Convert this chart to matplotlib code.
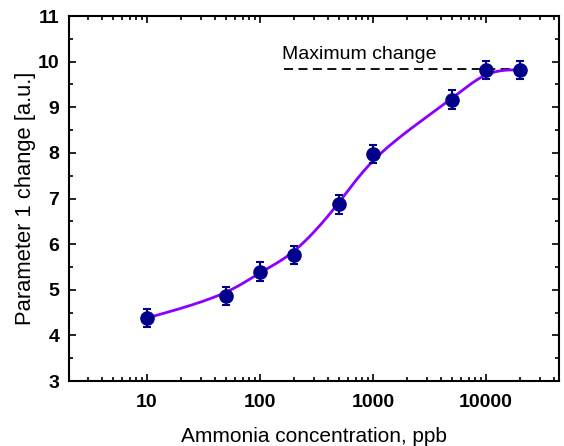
import numpy as np
import matplotlib
matplotlib.use("Agg")
import matplotlib.pyplot as plt
from matplotlib.ticker import LogLocator, MultipleLocator, FixedLocator, NullFormatter

conc = [10, 50, 100, 200, 500, 1000, 5000, 10000, 20000]
change = [4.38, 4.87, 5.40, 5.76, 6.87, 7.97, 9.17, 9.82, 9.82]
err = [0.20, 0.20, 0.20, 0.20, 0.20, 0.20, 0.20, 0.20, 0.20]
max_change = 9.84
xticks = [10, 100, 1000, 10000]
xticklabels = ["10", "100", "1000", "10000"]
yticks = [3, 4, 5, 6, 7, 8, 9, 10, 11]

plt.rcParams['font.family'] = ['Liberation Sans', 'DejaVu Sans']

def bspline(px, py, per_seg=60):
    """Uniform cubic B-spline with the data as control points (clamped ends)."""
    P = np.column_stack([px, py])
    P = np.vstack([P[0], P[0], P, P[-1], P[-1]])
    t = np.linspace(0, 1, per_seg)
    b0 = (1 - t)**3 / 6
    b1 = (3*t**3 - 6*t**2 + 4) / 6
    b2 = (-3*t**3 + 3*t**2 + 3*t + 1) / 6
    b3 = t**3 / 6
    pts = []
    for i in range(len(P) - 3):
        seg = (np.outer(b0, P[i]) + np.outer(b1, P[i+1]) +
               np.outer(b2, P[i+2]) + np.outer(b3, P[i+3]))
        pts.append(seg)
    pts = np.vstack(pts)
    return pts[:, 0], pts[:, 1]

fig = plt.figure(figsize=(5.64, 4.46), dpi=100)
ax = fig.add_axes([0.1223, 0.1457, 0.8687, 0.8183])

cx, cy = bspline(np.log10(conc), change)
ax.plot(10**cx, cy, color='#8B00FF', lw=2, zorder=2)
ax.errorbar(conc, change, yerr=err, fmt='o', color='#00008B', ms=9.5,
            ecolor='#00008B', elinewidth=1.5, capsize=3, capthick=1.5, zorder=3)
ax.plot([162, 20000], [max_change, max_change], ls=(0, (5, 3)), color='black', lw=1.3, zorder=1)
ax.text(157, 9.97, "Maximum change", fontsize=14, ha='left', va='bottom')

ax.set_xscale('log')
ax.set_xlim(2.04, 44000)
ax.set_ylim(3, 11)
ax.xaxis.set_major_locator(FixedLocator(xticks))
ax.set_xticklabels(xticklabels)
ax.xaxis.set_minor_locator(LogLocator(base=10, subs=np.arange(2, 10), numticks=20))
ax.xaxis.set_minor_formatter(NullFormatter())
ax.yaxis.set_major_locator(FixedLocator(yticks))
ax.yaxis.set_minor_locator(MultipleLocator(0.5))

ax.tick_params(which='both', direction='in', top=True, right=True, width=1.2)
ax.tick_params(which='major', length=5, labelsize=14)
ax.tick_params(axis='x', which='major', pad=9)
ax.tick_params(axis='y', which='major', pad=7)
ax.tick_params(which='minor', length=3)
for lab in ax.get_xticklabels() + ax.get_yticklabels():
    lab.set_fontweight('bold')
for s in ax.spines.values():
    s.set_linewidth(1.5)

ax.set_xlabel("Ammonia concentration, ppb", fontsize=15, labelpad=12)
ax.set_ylabel("Parameter 1 change [a.u.]", fontsize=15.8, labelpad=1)

fig.savefig("out.png", dpi=100)
